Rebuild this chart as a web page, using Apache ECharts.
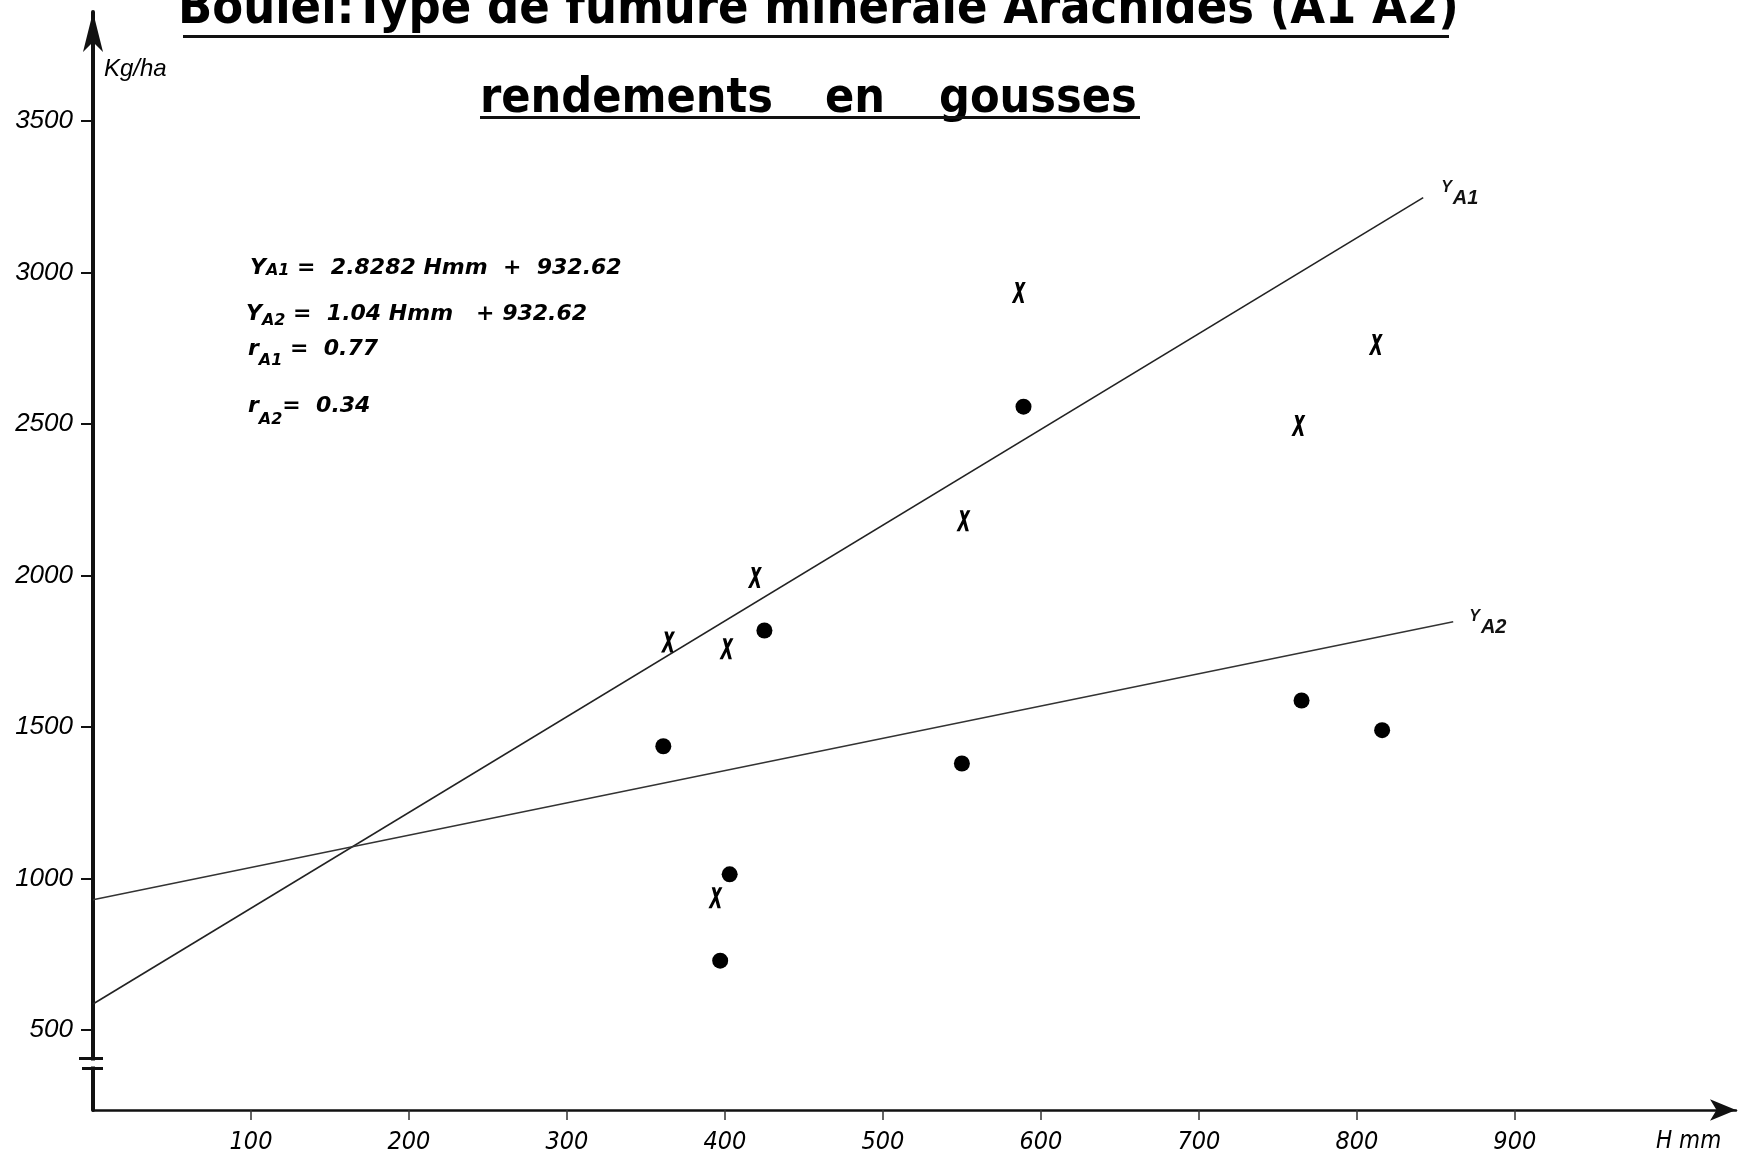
<!DOCTYPE html>
<html><head><meta charset="utf-8">
<script src="https://cdn.jsdelivr.net/npm/echarts@6/dist/echarts.min.js"></script>
<style>html,body{margin:0;padding:0;background:#fff}#c{width:1741px;height:1156px}</style>
</head><body><div id="c"></div>
<script>
// ---- data ----
const hmmA1 = [364, 401, 419, 394, 551, 586, 763, 812];          // "X" marks
const yieldA1 = [1780, 1758, 1993, 936, 2180, 2934, 2495, 2762];
const hmmA2 = [361, 425, 589, 550, 403, 397, 765, 816];          // dots
const yieldA2 = [1436, 1818, 2557, 1379, 1013, 728, 1587, 1489];
const fitA1X = [0, 842];
const fitA1Y = [585, 3247];
const fitA2X = [0, 861];
const fitA2Y = [929, 1847];
const xTickValues = [100, 200, 300, 400, 500, 600, 700, 800, 900];
const yTickValues = [500, 1000, 1500, 2000, 2500, 3000, 3500];
const titleText = 'Boulel:Type de fumure minerale Arachides (A1 A2)';
const subtitleWords = ['rendements', 'en', 'gousses'];
const eqMain = ['Y', 'Y', 'r', 'r'];
const eqSub = ['A1', 'A2', 'A1', 'A2'];
const eqRest = [' =  2.8282 Hmm  +  932.62', ' =  1.04 Hmm   + 932.62', ' =  0.77', '=  0.34'];
const yAxisName = 'Kg/ha';
const xAxisName = 'H mm';
const fitNames = ['A1', 'A2'];

const FONT_T = "'DejaVu Sans Condensed', 'DejaVu Sans', sans-serif";
const FONT_E = "'DejaVu Sans', sans-serif";
const FONT_N = "'Liberation Sans Narrow', 'DejaVu Sans Condensed', sans-serif";
const FONT_I = "'Liberation Sans', 'DejaVu Sans', sans-serif";

const chart = echarts.init(document.getElementById('c'), null, {renderer: 'canvas'});

const xPath = 'path://M4,0 L8,0 L15,22 L11,22 Z M13,0 L17,0 L4,22 L0,22 Z';

function endLbl(name, off) {
  return {
    show: true, distance: 0, offset: off,
    formatter: '{y|Y}{s|' + name + '}',
    rich: {
      y: {fontSize: 16, fontStyle: 'italic', fontWeight: 'bold', fontFamily: FONT_I, color: '#111', verticalAlign: 'top'},
      s: {fontSize: 20, fontStyle: 'italic', fontWeight: 'bold', fontFamily: FONT_I, color: '#111', verticalAlign: 'top', padding: [9, 0, 0, 1]}
    }
  };
}

const eqPos = [[250, 257], [246, 303], [248, 338], [248, 395]];
const eqSubPad = [6, 10, 15, 17];

const graphics = [];
graphics.push({id: 't1', type: 'text', x: 178, y: 10, style: {
  text: titleText, font: "bold 50px " + FONT_T, fill: '#000', verticalAlign: 'middle', align: 'left'}});
graphics.push({id: 't1u', type: 'rect', shape: {x: 183, y: 35, width: 1266, height: 3}, style: {fill: '#111'}});
const swX = [480, 825, 939];
subtitleWords.forEach((w, i) => {
  graphics.push({id: 'sw' + i, type: 'text', x: swX[i], y: 100, style: {
    text: w, font: "bold 48px " + FONT_T, fill: '#000', verticalAlign: 'middle', align: 'left'}});
});
graphics.push({id: 't2u', type: 'rect', shape: {x: 480, y: 116, width: 660, height: 3}, style: {fill: '#111'}});
eqMain.forEach((m, i) => {
  graphics.push({id: 'eq' + i, type: 'text', x: eqPos[i][0], y: eqPos[i][1], style: {
    text: '{m|' + m + '}{s|' + eqSub[i] + '}{m|' + eqRest[i] + '}',
    verticalAlign: 'top', align: 'left',
    rich: {
      m: {fontSize: 22, fontStyle: 'italic', fontWeight: 'bold', fontFamily: FONT_E, fill: '#000', verticalAlign: 'top'},
      s: {fontSize: 16, fontStyle: 'italic', fontWeight: 'bold', fontFamily: FONT_E, fill: '#000', verticalAlign: 'top', padding: [eqSubPad[i], 0, 0, 0]}
    }}});
});
graphics.push({id: 'yname', type: 'text', x: 104, y: 69, style: {
  text: yAxisName, font: "italic 24px " + FONT_I, fill: '#000', verticalAlign: 'middle'}});
graphics.push({id: 'xname', type: 'text', x: 1656, y: 1142, style: {
  text: xAxisName, font: "italic 24px " + FONT_N, fill: '#000', verticalAlign: 'middle'}});

const option = {
  animation: false,
  backgroundColor: '#fff',
  grid: {left: 93, right: 5, top: 12, bottom: 46, containLabel: false},
  xAxis: {
    type: 'value', min: 0, max: 1040,
    splitLine: {show: false},
    axisLine: {show: true, symbol: ['none', 'arrow'], symbolSize: [16, 26], lineStyle: {color: '#111', width: 2.5}},
    axisTick: {show: true, inside: false, length: 10, customValues: xTickValues, lineStyle: {color: '#333', width: 1.5}},
    axisLabel: {show: true, customValues: xTickValues, margin: 20, fontFamily: FONT_N, fontStyle: 'italic', fontSize: 25, color: '#000',
      formatter: v => String(v)}
  },
  yAxis: {
    type: 'value', min: 235, max: 3860,
    splitLine: {show: false},
    axisLine: {show: true, symbol: ['none', 'arrow'], symbolSize: [15, 40], lineStyle: {color: '#111', width: 4}},
    axisTick: {show: true, inside: false, length: 12, customValues: yTickValues, lineStyle: {color: '#111', width: 2}},
    axisLabel: {show: true, customValues: yTickValues, margin: 20, fontFamily: FONT_I, fontStyle: 'italic', fontSize: 26, color: '#000',
      formatter: v => String(v)}
  },
  series: [
    {type: 'line', name: 'Y' + fitNames[0], data: fitA1X.map((x, i) => [x, fitA1Y[i]]), showSymbol: false, symbol: 'none',
     lineStyle: {color: '#222', width: 1.6}, z: 2, endLabel: endLbl(fitNames[0], [18, -4])},
    {type: 'line', name: 'Y' + fitNames[1], data: fitA2X.map((x, i) => [x, fitA2Y[i]]), showSymbol: false, symbol: 'none',
     lineStyle: {color: '#333', width: 1.4}, z: 2, endLabel: endLbl(fitNames[1], [16, 1])},
    {type: 'scatter', name: 'A1', data: hmmA1.map((x, i) => [x, yieldA1[i]]), symbol: xPath, symbolSize: [14, 21],
     itemStyle: {color: '#000', opacity: 1}, z: 3},
    {type: 'scatter', name: 'A2', data: hmmA2.map((x, i) => [x, yieldA2[i]]), symbol: 'circle', symbolSize: 16,
     itemStyle: {color: '#000', opacity: 1}, z: 3}
  ],
  graphic: {elements: graphics}
};
chart.setOption(option);

// axis break marks on the y axis, placed through the axis scale
const bTop = chart.convertToPixel({gridIndex: 0}, [0, 405]);
const bBot = chart.convertToPixel({gridIndex: 0}, [0, 372]);
chart.setOption({graphic: {elements: [
  {id: 'brkGap', type: 'rect', shape: {x: bTop[0] - 4, y: bTop[1] + 2, width: 8, height: bBot[1] - bTop[1] - 4}, style: {fill: '#fff'}, z: 100},
  {id: 'brk1', type: 'rect', shape: {x: bTop[0] - 14, y: bTop[1] - 1.5, width: 24, height: 3}, style: {fill: '#111'}, z: 101},
  {id: 'brk2', type: 'rect', shape: {x: bBot[0] - 11, y: bBot[1] - 1.5, width: 21, height: 3}, style: {fill: '#111'}, z: 101}
]}});
</script>
</body></html>
